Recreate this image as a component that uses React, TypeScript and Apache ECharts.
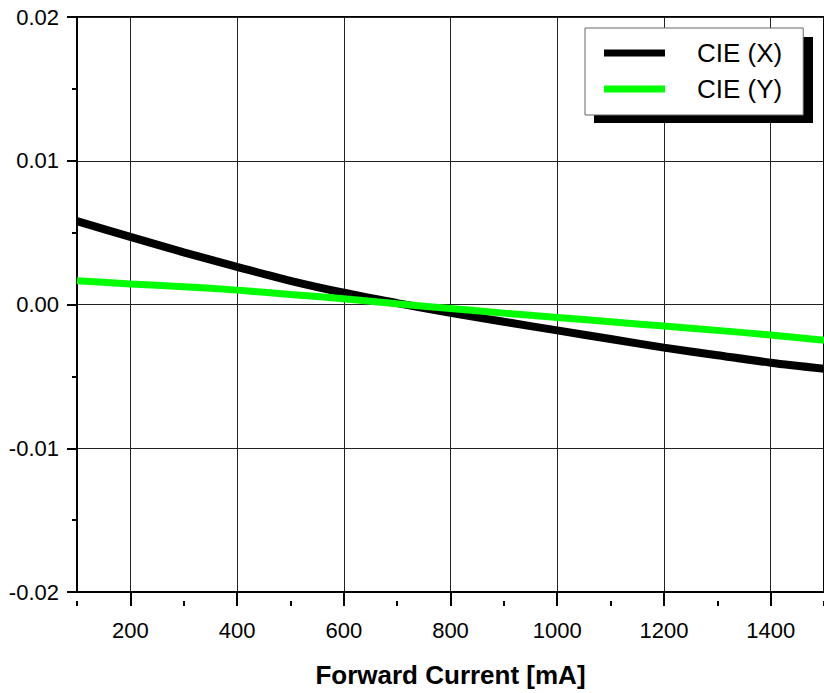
import React, { useEffect, useRef } from "react";
import * as echarts from "echarts";

const currents = [100, 200, 300, 400, 500, 600, 700, 800, 900, 1000, 1100, 1200, 1300, 1400, 1500];
const cieX = [0.0058, 0.0047, 0.00363, 0.00262, 0.00165, 0.00082, 0.0001, -0.00058, -0.0012, -0.0018, -0.0024, -0.003, -0.00353, -0.00405, -0.00447];
const cieY = [0.00165, 0.00143, 0.00124, 0.001, 0.0007, 0.0004, 0.00005, -0.00028, -0.0006, -0.0009, -0.0012, -0.0015, -0.0018, -0.00212, -0.00248];
const xMajorTicks = [200, 400, 600, 800, 1000, 1200, 1400];
const seriesNames = ["CIE (X)", "CIE (Y)"];
const xTitle = "Forward Current [mA]";

const FONT = "'Liberation Sans', Arial, Helvetica, sans-serif";

export default function App() {
  const ref = useRef<HTMLDivElement>(null);
  useEffect(() => {
    document.body.style.margin = "0";
    const chart = echarts.init(ref.current!, null, { renderer: "svg" });
    const option: any = {
      animation: false,
      backgroundColor: "#fff",
      textStyle: { fontFamily: FONT },
      grid: {
        left: 77,
        top: 17,
        right: -3,
        bottom: 92,
        show: true,
        borderColor: "#000",
        borderWidth: 2,
        backgroundColor: "transparent",
      },
      legend: {
        orient: "vertical",
        left: 585,
        top: 28,
        z: 10,
        padding: [12, 21, 13, 19],
        itemWidth: 61,
        itemHeight: 7,
        itemGap: 10,
        icon: "rect",
        backgroundColor: "#fff",
        borderColor: "#666",
        borderWidth: 1,
        textStyle: { fontSize: 26, color: "#000", fontFamily: FONT, padding: [0, 0, 0, 27] },
        data: seriesNames,
      },
      graphic: [
        {
          type: "rect",
          z: 3,
          shape: { x: 594, y: 37, width: 219, height: 86 },
          style: { fill: "#000" },
        },
      ],
      xAxis: [
        {
          type: "value",
          min: 100,
          max: 1500,
          interval: 100,
          position: "bottom",
          name: xTitle,
          nameLocation: "middle",
          nameGap: 70,
          nameTextStyle: { fontSize: 26, fontWeight: "bold", color: "#000", fontFamily: FONT },
          axisLine: { show: true, onZero: false, lineStyle: { color: "#000", width: 2 } },
          axisTick: { show: true, length: 11, customValues: xMajorTicks, lineStyle: { color: "#000", width: 2 } },
          axisLabel: {
            customValues: xMajorTicks,
            fontSize: 22,
            color: "#000",
            margin: 27,
            fontFamily: FONT,
            formatter: (v: number) => String(v),
          },
          splitLine: { show: true, lineStyle: { color: "#222", width: 1 } },
        },
        {
          type: "value",
          min: 100,
          max: 1500,
          interval: 100,
          position: "top",
          offset: -584,
          axisLine: { show: false, onZero: false },
          axisTick: { show: true, inside: true, length: 5, lineStyle: { color: "#000", width: 2 } },
          axisLabel: { show: false },
          splitLine: { show: false },
        },
      ],
      yAxis: {
        type: "value",
        min: -0.02,
        max: 0.02,
        interval: 0.01,
        axisLine: { show: true, onZero: false, lineStyle: { color: "#000", width: 2 } },
        axisTick: { show: true, length: 10, lineStyle: { color: "#000", width: 2 } },
        minorTick: { show: true, splitNumber: 2, length: 5, lineStyle: { color: "#000", width: 2 } },
        axisLabel: {
          fontSize: 22,
          color: "#000",
          margin: 18,
          fontFamily: FONT,
          formatter: (v: number) => v.toFixed(2),
        },
        splitLine: { show: true, lineStyle: { color: "#222", width: 1 } },
      },
      series: [
        {
          name: seriesNames[0],
          type: "line",
          xAxisIndex: 0,
          data: currents.map((c, i) => [c, cieX[i]]),
          smooth: 0.3,
          symbol: "none",
          showSymbol: false,
          color: "#000",
          lineStyle: { color: "#000", width: 8 },
          z: 2,
        },
        {
          name: seriesNames[1],
          type: "line",
          xAxisIndex: 0,
          data: currents.map((c, i) => [c, cieY[i]]),
          smooth: 0.3,
          symbol: "none",
          showSymbol: false,
          color: "#00ff00",
          lineStyle: { color: "#00ff00", width: 7 },
          z: 2,
        },
      ],
    };
    chart.setOption(option);
    return () => chart.dispose();
  }, []);
  return <div ref={ref} style={{ width: 824, height: 693 }} />;
}
